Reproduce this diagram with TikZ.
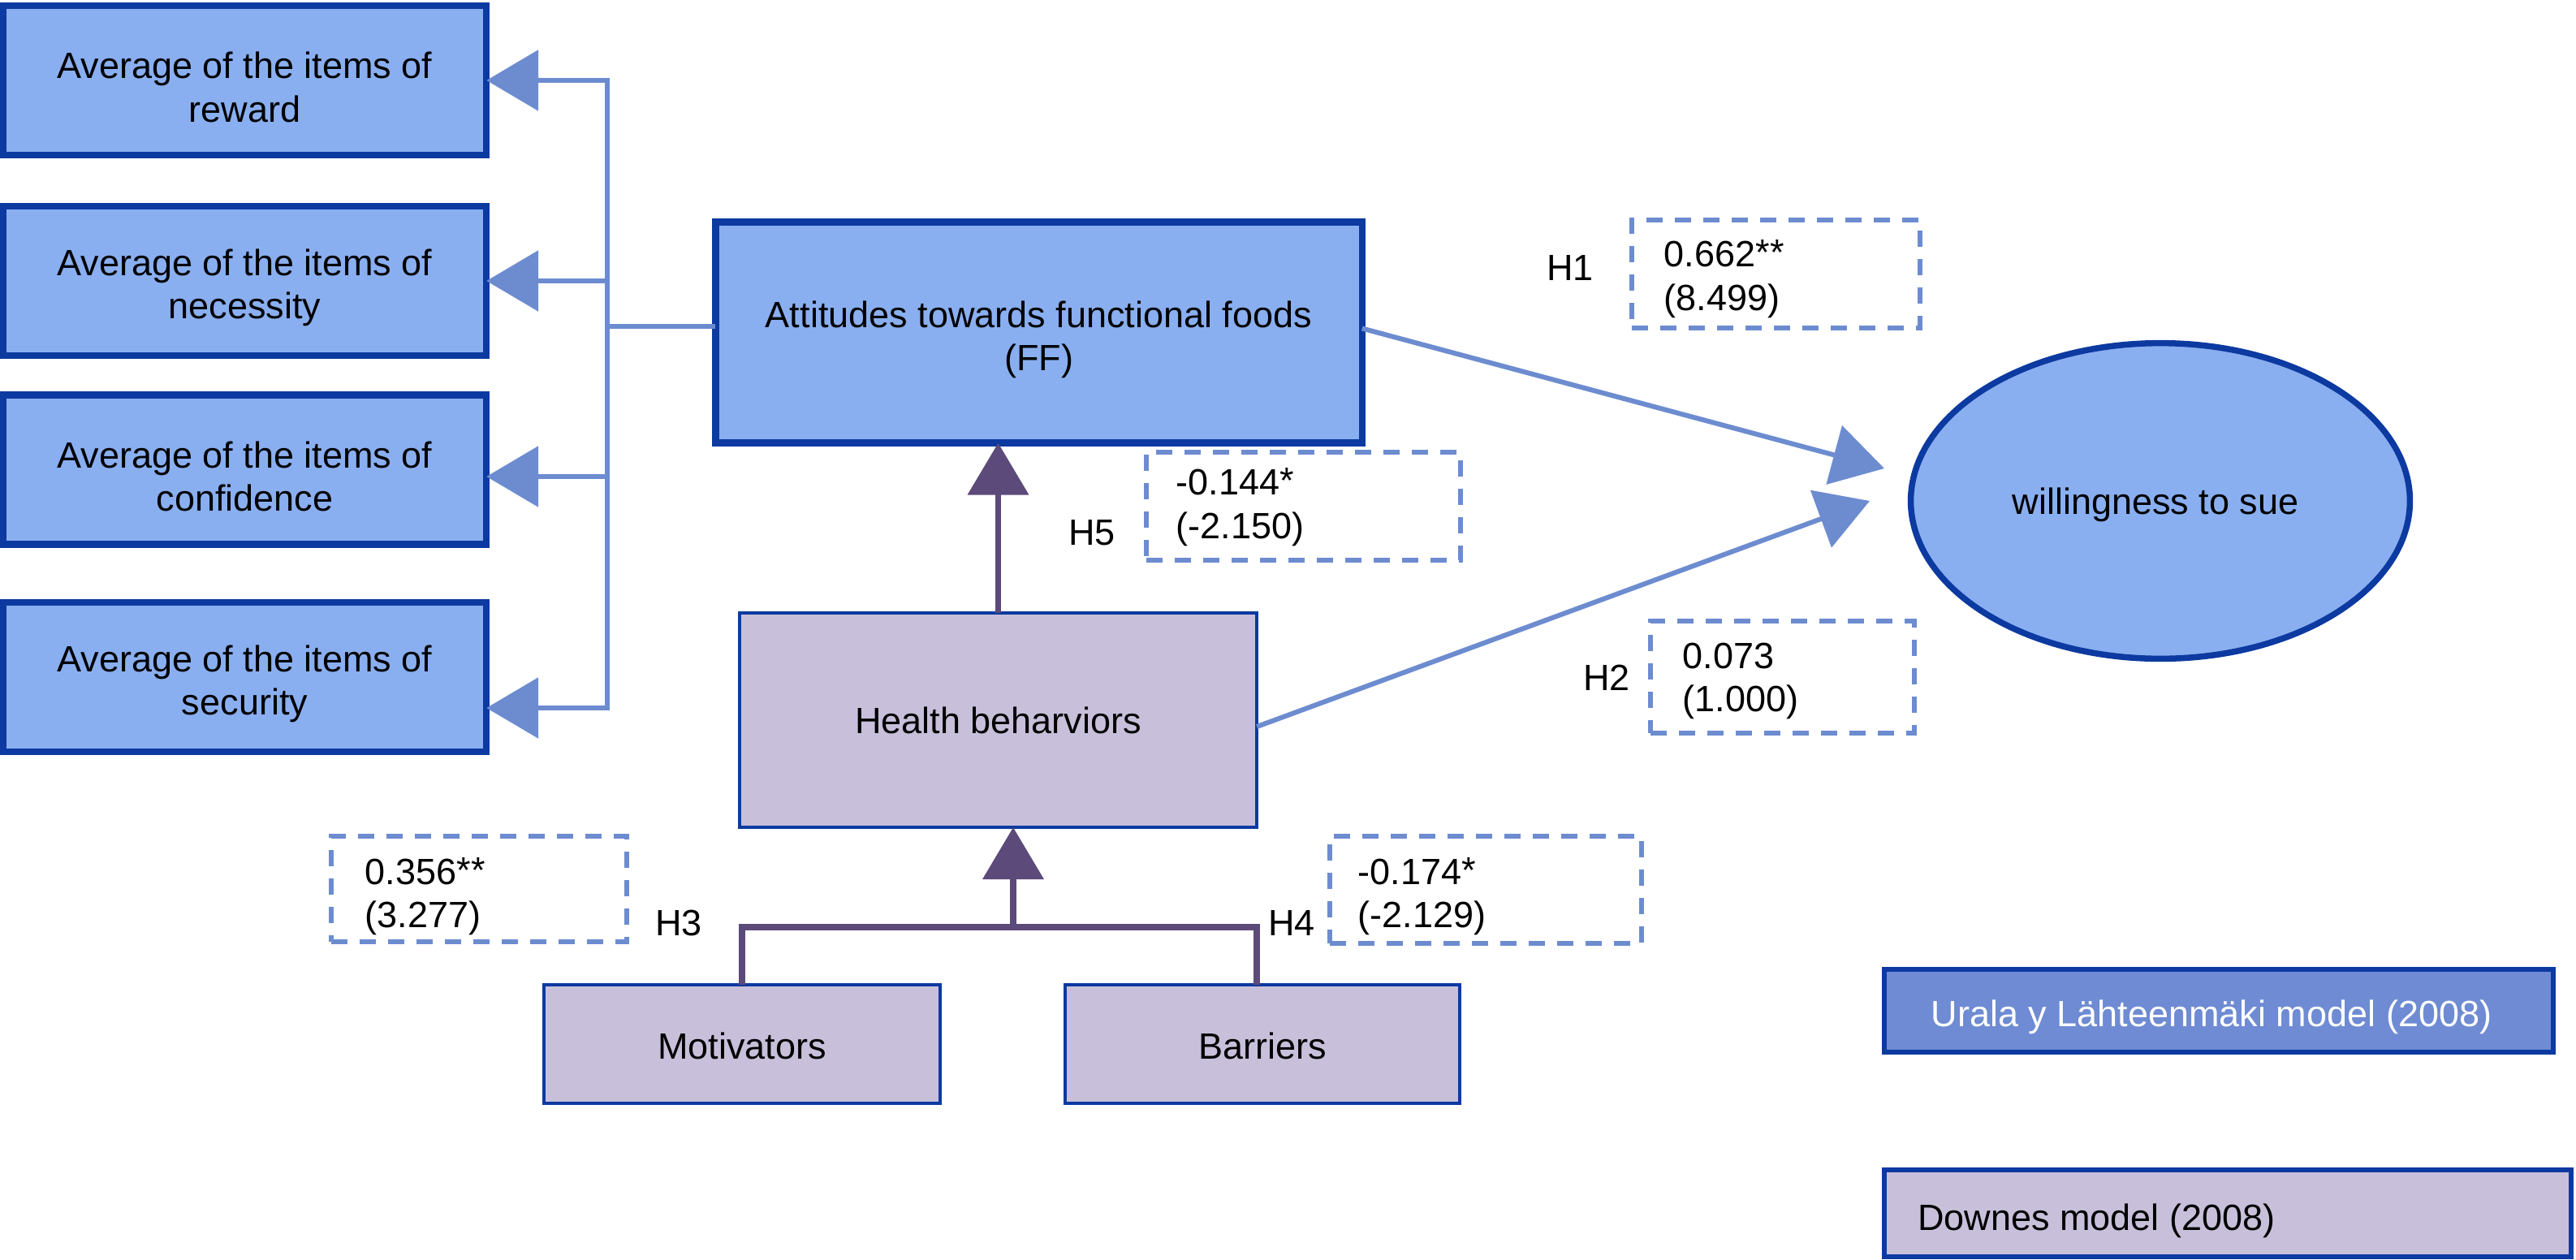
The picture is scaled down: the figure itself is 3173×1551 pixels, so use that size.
\documentclass[tikz,border=0pt]{standalone}
\usepackage{fontspec}
\setmainfont{Liberation Sans}
\usetikzlibrary{arrows.meta,shapes.geometric}
\definecolor{fillblue}{RGB}{138,175,240}
\definecolor{edgeblue}{RGB}{12,58,160}
\definecolor{linkblue}{RGB}{109,140,208}
\definecolor{lav}{RGB}{200,192,218}
\definecolor{plum}{RGB}{91,74,122}
\definecolor{legblue}{RGB}{110,139,211}
\newcommand{\topstrut}{\rule{0pt}{1.1em}}
\newcommand{\stars}[1]{\raisebox{0.05em}{#1}}
\begin{document}
\begin{tikzpicture}[x=0.01cm,y=-0.01cm,
  every node/.style={font=\fontsize{12.8pt}{15.1pt}\selectfont, inner sep=0pt, outer sep=0pt},
  bluebox/.style={draw=edgeblue, fill=fillblue, line width=0.085cm, align=center},
  lavbox/.style={draw=edgeblue, fill=lav, line width=0.04cm, align=center},
  dbox/.style={draw=linkblue, line width=0.065cm, dash pattern=on 0.2cm off 0.15cm},
  val/.style={align=left, anchor=west},
  hlab/.style={anchor=base},
  conn/.style={draw=linkblue, line width=0.06cm},
  pconn/.style={draw=plum, line width=0.075cm},
  btip/.style={-{Triangle[length=0.64cm,width=0.74cm]}},
]
\useasboundingbox (0,0) rectangle (3173,1551);
\fill[white] (0,0) rectangle (3173,1551);

% left boxes
\node[bluebox, minimum width=5.95cm, minimum height=1.84cm] (b1) at (301.5,99) {\topstrut Average of the items of\\reward};
\node[bluebox, minimum width=5.95cm, minimum height=1.84cm] (b2) at (301.5,346) {\topstrut Average of the items of\\necessity};
\node[bluebox, minimum width=5.95cm, minimum height=1.84cm] (b3) at (301.5,578.5) {\topstrut Average of the items of\\confidence};
\node[bluebox, minimum width=5.95cm, minimum height=1.84cm] (b4) at (301.5,834) {\topstrut Average of the items of\\security};

% main nodes
\node[bluebox, minimum width=7.96cm, minimum height=2.72cm] (ff) at (1279.5,409.5) {\topstrut Attitudes towards functional foods\\(FF)};
\node[ellipse, draw=edgeblue, fill=fillblue, line width=0.075cm, minimum width=6.145cm, minimum height=3.885cm] (wts) at (2661,617) {};
\node (wtst) at (2655,633) [anchor=base] {willingness to sue};
\node[lavbox, minimum width=6.37cm, minimum height=2.64cm] (hb) at (1229.5,887) {Health beharviors};
\node[lavbox, minimum width=4.88cm, minimum height=1.46cm] (mot) at (914,1286) {\rule{0pt}{0.85em}Motivators};
\node[lavbox, minimum width=4.86cm, minimum height=1.46cm] (bar) at (1555,1286) {\rule{0pt}{0.85em}Barriers};

% legend
\node[draw=edgeblue, fill=legblue, line width=0.06cm, minimum width=8.24cm, minimum height=1.02cm] (leg1) at (2733,1245) {};
\node[text=white, anchor=base] (leg1t) at (2724,1264) {Urala y Lähteenmäki model (2008)};
\node[draw=edgeblue, fill=lav, line width=0.06cm, minimum width=8.46cm, minimum height=1.07cm] (leg2) at (2744,1494.5) {};
\node[anchor=base west] (leg2t) at (2362,1515) {Downes model (2008)};

% dashed value boxes
\node[dbox, minimum width=3.55cm, minimum height=1.33cm] (d1) at (2187.5,337.5) {};
\node[val] (v1) at ([xshift=0.40cm,yshift=-0.06cm]d1.west) {0.662\stars{**}\\(8.499)};
\node[dbox, minimum width=3.87cm, minimum height=1.33cm] (d5) at (1605.5,623.5) {};
\node[val] (v5) at ([xshift=0.37cm,yshift=-0.01cm]d5.west) {-0.144\stars{*}\\(-2.150)};
\node[dbox, minimum width=3.25cm, minimum height=1.38cm] (d2) at (2195.5,834) {};
\node[val] (v2) at ([xshift=0.40cm,yshift=-0.05cm]d2.west) {0.073\\(1.000)};
\node[dbox, minimum width=3.64cm, minimum height=1.30cm] (d3) at (590,1095) {};
\node[val] (v3) at ([xshift=0.42cm,yshift=-0.09cm]d3.west) {0.356\stars{**}\\(3.277)};
\node[dbox, minimum width=3.84cm, minimum height=1.32cm] (d4) at (1830,1096) {};
\node[val] (v4) at ([xshift=0.35cm,yshift=-0.08cm]d4.west) {-0.174\stars{*}\\(-2.129)};

% hypothesis labels
\node[hlab] (h1) at (1934,345) {H1};
\node[hlab] (h2) at (1979,850) {H2};
\node[hlab] (h3) at (836,1152) {H3};
\node[hlab] (h4) at (1591,1152) {H4};
\node[hlab] (h5) at (1345,671) {H5};

% left bus connectors
\coordinate (busff) at (748,402);
\coordinate (bus1) at (748,99);
\coordinate (bus2) at (748,346);
\coordinate (bus3) at (748,587);
\coordinate (bus4) at (748,872);
\draw[conn] (ff.west |- busff) -- (busff);
\draw[conn,btip] (busff) -- (bus1) -- (b1.east |- bus1);
\draw[conn,btip] (busff) -- (bus4) -- (b4.east |- bus4);
\draw[conn,btip] (bus2) -- (b2.east |- bus2);
\draw[conn,btip] (bus3) -- (b3.east |- bus3);

% paths to willingness
\coordinate (t1) at (2321,577);
\coordinate (t2) at (2303,617);
\draw[conn,btip] ([yshift=0.05cm]ff.east) -- (t1);
\draw[conn,btip] ([yshift=-0.08cm]hb.east) -- (t2);

% Downes model connectors
\draw[pconn,btip] (hb.north) -- (hb.north |- ff.south);
\coordinate (join) at (1248,1142);
\draw[pconn] (mot.north) |- (join) -| ([xshift=-0.07cm]bar.north);
\draw[pconn,btip] (join) -- (join |- hb.south);
\end{tikzpicture}
\end{document}
